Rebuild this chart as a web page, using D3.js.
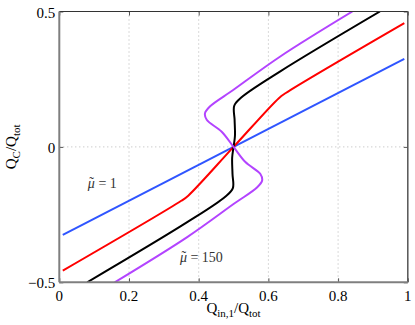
<!DOCTYPE html>
<html>
<head>
<meta charset="utf-8">
<script src="https://cdn.jsdelivr.net/npm/d3@7"></script>
<style>
    html, body { margin: 0; padding: 0; background: #fff; overflow: hidden; }
    svg { display: block; }
    svg text { font-family: "Liberation Serif", "Times New Roman", serif; fill: #000; }
</style>
</head>
<body>
<div id="chart"></div>
<script>
'use strict';

// values
let xTicks = [0, 0.2, 0.4, 0.6, 0.8, 1];
let xTickLabels = ['0', '0.2', '0.4', '0.6', '0.8', '1'];
let yTicks = [-0.5, 0, 0.5];
let yTickLabels = ['\u22120.5', '0', '0.5'];
let xGrid = [0.2, 0.4, 0.6, 0.8];
let yGrid = [0];

let blueLine = [[0.01, -0.325], [0.99, 0.325]];

let redLine = [
    [0.01, -0.457], [0.35, -0.199], [0.37, -0.18], [0.5, 0],
    [0.63, 0.18], [0.65, 0.199], [0.99, 0.457]
];

let blackLine = [
    [0.08, -0.5], [0.367, -0.278], [0.477, -0.183], [0.498, -0.152],
    [0.497, -0.1], [0.496, -0.04], [0.5, 0], [0.504, 0.04], [0.503, 0.1],
    [0.502, 0.152], [0.523, 0.183], [0.633, 0.278], [0.92, 0.5]
];

let purpleLine = [
    [0.159, -0.5], [0.367, -0.333], [0.501, -0.21], [0.568, -0.149],
    [0.582, -0.124], [0.577, -0.1], [0.534, -0.056], [0.5, 0],
    [0.466, 0.056], [0.423, 0.1], [0.418, 0.124], [0.432, 0.149],
    [0.499, 0.21], [0.633, 0.333], [0.841, 0.5]
];

let seriesList = [
    { name: 'mu1', points: blueLine, colour: '#2f55ff' },
    { name: 'mid', points: redLine, colour: '#ff0000' },
    { name: 'high', points: blackLine, colour: '#000000' },
    { name: 'mu150', points: purpleLine, colour: '#b344ff' }
];

let annotations = [
    { x: 0.082, y: -0.151, value: '1' },
    { x: 0.346, y: -0.424, value: '150' }
];

let width = 415, height = 325;
let margins = { top: 11.5, right: 7.2, bottom: 42.7, left: 59.3 };
let innerWidth = width - margins.left - margins.right;
let innerHeight = height - margins.top - margins.bottom;

let svg = d3.select('#chart').append('svg')
    .attr('width', width)
    .attr('height', height);

let scaleX = d3.scaleLinear().domain([0, 1]).range([0, innerWidth]);
let scaleY = d3.scaleLinear().domain([-0.5, 0.5]).range([innerHeight, 0]);

let chartGroup = svg.append('g')
    .attr('transform', `translate(${margins.left}, ${margins.top})`);

// dotted grid
chartGroup.selectAll('.grid-x').data(xGrid).join('line')
    .attr('x1', d => scaleX(d)).attr('x2', d => scaleX(d))
    .attr('y1', 0).attr('y2', innerHeight)
    .attr('stroke', '#b5b5b5').attr('stroke-width', 1)
    .attr('stroke-dasharray', '1,3');

chartGroup.selectAll('.grid-y').data(yGrid).join('line')
    .attr('x1', 0).attr('x2', innerWidth)
    .attr('y1', d => scaleY(d)).attr('y2', d => scaleY(d))
    .attr('stroke', '#b5b5b5').attr('stroke-width', 1)
    .attr('stroke-dasharray', '1,3');

// curves
svg.append('clipPath').attr('id', 'plot-clip')
    .append('rect').attr('width', innerWidth).attr('height', innerHeight);

let lineGen = d3.line()
    .x(d => scaleX(d[0]))
    .y(d => scaleY(d[1]))
    .curve(d3.curveCatmullRom.alpha(0.5));

chartGroup.append('g').attr('clip-path', 'url(#plot-clip)')
    .selectAll('path').data(seriesList).join('path')
    .attr('d', d => lineGen(d.points))
    .attr('fill', 'none')
    .attr('stroke', d => d.colour)
    .attr('stroke-width', 2)
    .attr('stroke-linejoin', 'round');

// axes: ticks point inward, labels drawn separately
let axisBottom = d3.axisBottom(scaleX).tickValues(xTicks).tickSize(-4);
let axisTop = d3.axisTop(scaleX).tickValues(xTicks).tickSize(-4);
let axisLeft = d3.axisLeft(scaleY).tickValues(yTicks).tickSize(-4);
let axisRight = d3.axisRight(scaleY).tickValues(yTicks).tickSize(-4);

[
    [axisBottom, `translate(0, ${innerHeight})`],
    [axisTop, 'translate(0, 0)'],
    [axisLeft, 'translate(0, 0)'],
    [axisRight, `translate(${innerWidth}, 0)`]
].forEach(([ax, tr]) => {
    let g = chartGroup.append('g').attr('transform', tr).call(ax);
    g.select('.domain').remove();
    g.selectAll('.tick text').remove();
    g.selectAll('.tick line').attr('stroke', '#555').attr('stroke-width', 1);
});

// frame
chartGroup.append('line').attr('x1', 0).attr('x2', innerWidth).attr('y1', 0).attr('y2', 0)
    .attr('stroke', '#333').attr('stroke-width', 1.2);
chartGroup.append('line').attr('x1', innerWidth).attr('x2', innerWidth).attr('y1', 0).attr('y2', innerHeight)
    .attr('stroke', '#555').attr('stroke-width', 1.5);
chartGroup.append('line').attr('x1', 0).attr('x2', innerWidth).attr('y1', innerHeight).attr('y2', innerHeight)
    .attr('stroke', '#7f7f7f').attr('stroke-width', 2);
chartGroup.append('line').attr('x1', 0).attr('x2', 0).attr('y1', 0).attr('y2', innerHeight)
    .attr('stroke', '#7f7f7f').attr('stroke-width', 2);

// tick labels
chartGroup.selectAll('.xlab').data(xTicks).join('text')
    .attr('x', d => scaleX(d))
    .attr('y', innerHeight + 19)
    .attr('text-anchor', 'middle')
    .style('font-size', '15px')
    .text((d, i) => xTickLabels[i]);

chartGroup.selectAll('.ylab').data(yTicks).join('text')
    .attr('x', -4)
    .attr('y', d => scaleY(d) + 6)
    .attr('text-anchor', 'end')
    .style('font-size', '15px')
    .text((d, i) => yTickLabels[i]);

// x axis title
let xTitle = svg.append('text')
    .attr('x', margins.left + scaleX(0.5))
    .attr('y', 313)
    .attr('text-anchor', 'middle')
    .style('font-size', '15px');
xTitle.append('tspan').text('Q');
xTitle.append('tspan').attr('dy', 4).style('font-size', '11px').text('in,1');
xTitle.append('tspan').attr('dy', -4).text('/Q');
xTitle.append('tspan').attr('dy', 4).style('font-size', '11px').text('tot');

// y axis title
let yTitle = svg.append('text')
    .attr('transform', `translate(16, ${margins.top + scaleY(0)}) rotate(-90)`)
    .attr('text-anchor', 'middle')
    .style('font-size', '15px');
yTitle.append('tspan').text('Q');
yTitle.append('tspan').attr('dy', 4).style('font-size', '11px').text('C');
yTitle.append('tspan').attr('dy', -4).text('/Q');
yTitle.append('tspan').attr('dy', 4).style('font-size', '11px').text('tot');

// curve annotations: mu with a tilde set above it
annotations.forEach(a => {
    let px = scaleX(a.x), py = scaleY(a.y);
    chartGroup.append('text')
        .attr('x', px)
        .attr('y', py)
        .style('font-size', '14px')
        .style('fill', '#333')
        .call(t => {
            t.append('tspan').style('font-style', 'italic').text('\u03BC');
            t.append('tspan').text(' = ' + a.value);
        });
    chartGroup.append('text')
        .attr('x', px + 1.5)
        .attr('y', py - 1)
        .style('font-size', '14px')
        .style('fill', '#333')
        .text('\u02DC');
});
</script>
</body>
</html>
